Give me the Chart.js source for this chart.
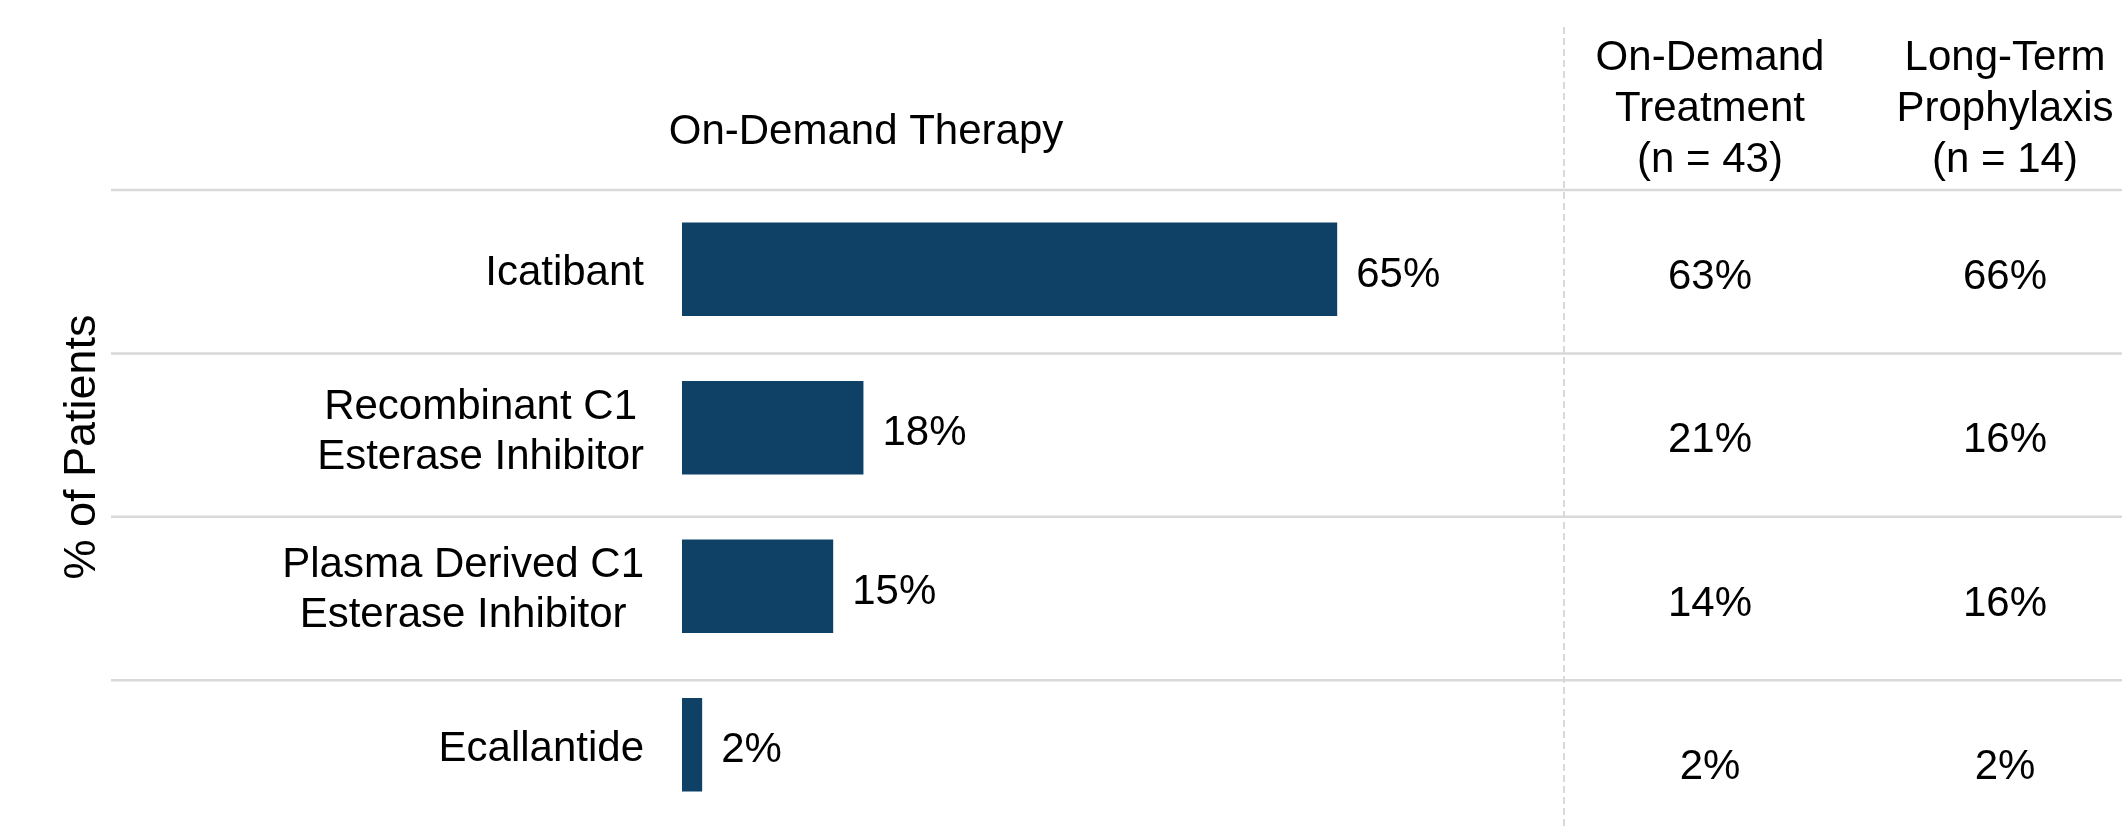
<!DOCTYPE html>
<html><head><meta charset="utf-8">
<script src="https://cdn.jsdelivr.net/npm/chart.js@4.4.1/dist/chart.umd.min.js"></script>
<style>html,body{margin:0;padding:0;background:#fff;overflow:hidden}</style>
</head><body>
<canvas id="c" width="2122" height="830"></canvas>
<script>
// ---- data ----
const categories = [["Icatibant"], ["Recombinant C1", "Esterase Inhibitor"], ["Plasma Derived C1", "Esterase Inhibitor"], ["Ecallantide"]];
const onDemandTherapy = [65, 18, 15, 2];
const onDemandTreatment = [63, 21, 14, 2];
const longTermProphylaxis = [66, 16, 16, 2];
const tableHeaders = [["On-Demand", "Treatment", "(n = 43)"], ["Long-Term", "Prophylaxis", "(n = 14)"]];
const tableColumns = [onDemandTreatment, longTermProphylaxis];
const barTitle = "On-Demand Therapy";
const yTitle = "% of Patients";

// ---- styling ----
const FONT = '42px "Liberation Sans", Arial, sans-serif';
const TITLE_FONT = '45px "Liberation Sans", Arial, sans-serif';
const BAR_COLOR = '#0f4166';
const GRID_COLOR = '#d9d9d9';

const overlay = {
  id: 'overlay',
  beforeDatasetsDraw(chart) {
    const { ctx, chartArea } = chart;
    const yt = chart.scales.yt;
    ctx.save();
    ctx.strokeStyle = GRID_COLOR;
    ctx.lineWidth = 2.5;
    for (let k = 0; k < categories.length; k++) {
      const y = yt.getPixelForValue(k);
      ctx.beginPath(); ctx.moveTo(111, y); ctx.lineTo(chart.width, y); ctx.stroke();
    }
    ctx.setLineDash([7, 4]);
    ctx.lineWidth = 2;
    ctx.beginPath(); ctx.moveTo(chartArea.right, 27); ctx.lineTo(chartArea.right, chart.height); ctx.stroke();
    ctx.restore();
  },
  afterDatasetsDraw(chart) {
    const { ctx, chartArea } = chart;
    const y = chart.scales.y, yt = chart.scales.yt;
    const meta = chart.getDatasetMeta(0);
    ctx.save();
    ctx.fillStyle = '#000';
    ctx.textBaseline = 'alphabetic';

    // y-axis title
    ctx.save();
    ctx.font = TITLE_FONT;
    ctx.translate(94.5, 447);
    ctx.rotate(-Math.PI / 2);
    ctx.textAlign = 'center';
    ctx.fillText(yTitle, 0, 0);
    ctx.restore();

    ctx.font = FONT;
    // bar section header
    ctx.textAlign = 'center';
    ctx.fillText(barTitle, 866, 144);

    // category labels (block right-aligned, lines centered)
    const blockRight = chartArea.left - 38;
    categories.forEach((lines, i) => {
      const cy = y.getPixelForValue(i);
      const maxW = Math.max(...lines.map(l => ctx.measureText(l).width));
      const cx = blockRight - maxW / 2;
      lines.forEach((l, j) => {
        ctx.fillText(l, cx, cy + 16 + (j - (lines.length - 1) / 2) * 50);
      });
    });

    // bar value labels
    ctx.textAlign = 'left';
    meta.data.forEach((bar, i) => {
      ctx.fillText(onDemandTherapy[i] + '%', bar.x + 19, bar.y + 17.5);
    });

    // table
    ctx.textAlign = 'center';
    const colX = [chartArea.right + 146, chartArea.right + 441];
    tableHeaders.forEach((lines, c) => {
      lines.forEach((l, j) => ctx.fillText(l, colX[c], 69.5 + j * 51));
    });
    tableColumns.forEach((vals, c) => {
      vals.forEach((v, i) => {
        ctx.fillText(v + '%', colX[c], yt.getPixelForValue(i + 0.5) + 17);
      });
    });
    ctx.restore();
  }
};

new Chart(document.getElementById('c'), {
  type: 'bar',
  data: {
    labels: categories,
    datasets: [{
      data: onDemandTherapy,
      backgroundColor: BAR_COLOR,
      borderWidth: 0,
      categoryPercentage: 1,
      barPercentage: 0.59
    }]
  },
  options: {
    indexAxis: 'y',
    responsive: false,
    devicePixelRatio: 1,
    animation: false,
    layout: { padding: { top: 190, bottom: 6, left: 682, right: 558 } },
    plugins: { legend: { display: false }, tooltip: { enabled: false }, title: { display: false } },
    scales: {
      x: { display: false, min: 0, max: 87.5 },
      y: { display: false },
      yt: {
        type: 'linear', axis: 'y', position: 'right', display: true,
        offset: false, grace: 0, bounds: 'data',
        min: 0, max: 3.88, reverse: true,
        ticks: { display: false }, grid: { display: false, offset: false }, border: { display: false },
        afterFit: s => { s.width = 0; }
      }
    }
  },
  plugins: [overlay]
});
</script>
</body></html>
